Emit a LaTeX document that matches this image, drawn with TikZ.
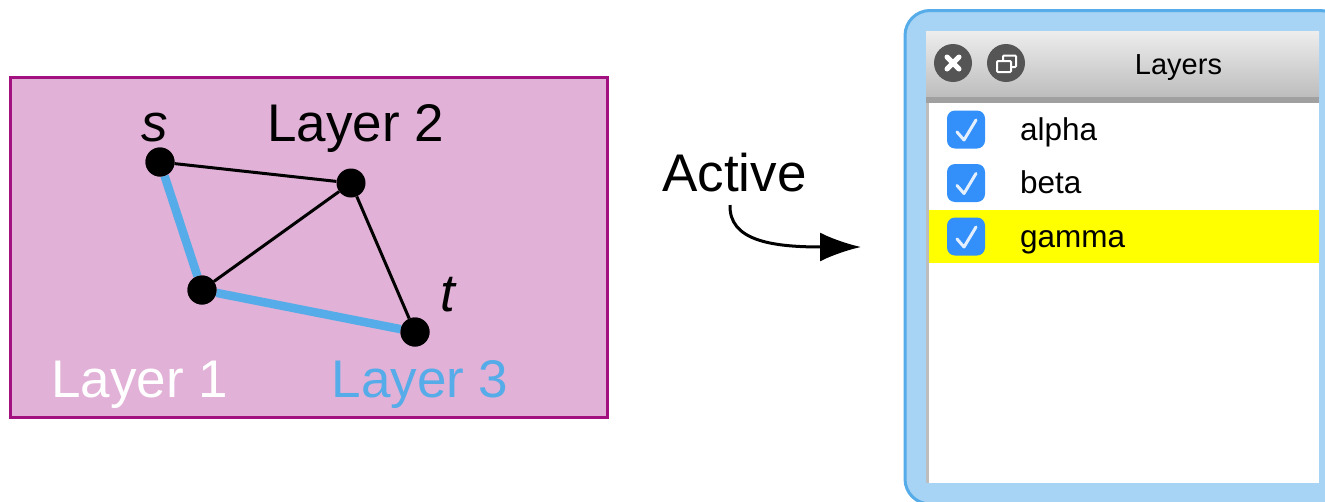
\documentclass[tikz,border=0pt]{standalone}
\usepackage{fontspec}
\setmainfont{Liberation Sans}
\usetikzlibrary{arrows.meta}
\definecolor{panelfill}{HTML}{E1B1D7}
\definecolor{paneledge}{HTML}{A3107F}
\definecolor{skyline}{HTML}{55ACE8}
\definecolor{skyfill}{HTML}{A7D3F4}
\definecolor{boxblue}{HTML}{3390FA}
\definecolor{btngray}{HTML}{555555}
\definecolor{rowyellow}{RGB}{255,255,0}
\definecolor{tickwhite}{HTML}{E4F0FF}
\definecolor{barstrip}{HTML}{A0A0A0}
\definecolor{bartop}{HTML}{EDEDED}
\definecolor{barbottom}{HTML}{BDBDBD}
\definecolor{sidestrip}{HTML}{BDBDBD}
\tikzset{
  vertex/.style={circle,fill=black,draw=none,minimum size=29pt,inner sep=0pt},
  thinedge/.style={draw=black,line width=3pt},
  thickedge/.style={draw=skyline,line width=8.5pt},
  biglabel/.style={font=\fontsize{53}{60}\selectfont,inner sep=0pt,anchor=base},
  rowlabel/.style={font=\fontsize{31.5}{36}\selectfont,inner sep=0pt,anchor=base west,text=black},
  checkbox/.style={rounded corners=8pt,fill=boxblue,draw=none,minimum width=38pt,minimum height=38pt,inner sep=0pt},
  tick/.style={draw=tickwhite,line width=3pt,line cap=round,line join=round},
  winbtn/.style={circle,fill=btngray,draw=none,minimum size=38pt,inner sep=0pt},
}
\begin{document}
\begin{tikzpicture}[x=1pt,y=-1pt]
\useasboundingbox (0,0) rectangle (1325,501);
\begin{scope}
\clip (0,0) rectangle (1325,501);
% left panel
\node[fill=panelfill,draw=paneledge,line width=2.5pt,minimum width=597pt,minimum height=340pt,inner sep=0pt] (panel) at (309,247.5) {};
\node[vertex] (s) at (160,162) {};
\node[vertex] (b) at (351,183) {};
\node[vertex] (c) at (202,290) {};
\node[vertex] (d) at (415,332) {};
\draw[thinedge] (s) -- (b);
\draw[thinedge] (b) -- (c);
\draw[thinedge] (b) -- (d);
\draw[thickedge] (s) -- (c);
\draw[thickedge] (c) -- (d);
\node[vertex] at (s) {};
\node[vertex] at (c) {};
\node[vertex] at (d) {};
\node[biglabel] (ls) at (155,141) {\itshape s};
\node[biglabel] (lt) at (448,311.5) {\itshape t};
\node[biglabel] (l2) at (355.5,141) {Layer 2};
\node[biglabel,text=white] (l1) at (139.5,397) {Layer 1};
\node[biglabel,text=skyline] (l3) at (420,397) {Layer 3};
% active
\node[biglabel] (active) at (734.5,191) {Active};
\coordinate (arrstart) at (730,205);
\coordinate (arrend) at (861,247);
\draw[line width=3pt,-{Latex[length=41pt,width=29pt]}] (arrstart) .. controls (729,240) and (770,247) .. (arrend);
% window
\draw[fill=skyfill,draw=skyline,line width=3pt,rounded corners=25pt] (905,10.5) rectangle (1345,504);
\fill[white] (926,31) rectangle (1319,483);
\fill[sidestrip] (926,100) rectangle (929,483);
\shade[top color=bartop,bottom color=barbottom] (926,31) rectangle (1319,97);
\fill[barstrip] (926,97) rectangle (1319,102.5);
\node[winbtn] (close) at (953,63) {};
\draw[white,line width=5pt,line cap=round] (947,57) -- (959,69);
\draw[white,line width=5pt,line cap=round] (959,57) -- (947,69);
\node[winbtn] (restore) at (1006,63) {};
\draw[white,line width=2pt,rounded corners=1pt] (1003,55.5) rectangle (1016,67);
\draw[white,fill=btngray,line width=2pt,rounded corners=1pt] (997,61) rectangle (1011,72);
\node[inner sep=0pt,anchor=base,font=\fontsize{29}{34}\selectfont] (title) at (1178.5,74) {Layers};
\fill[rowyellow] (929,210) rectangle (1319,263);
\node[checkbox] (cb1) at (966,129.5) {};
\node[checkbox] (cb2) at (966,183) {};
\node[checkbox] (cb3) at (966,236.5) {};
\draw[tick] (957,132) -- (964,140) -- (976,120);
\draw[tick] (957,185.5) -- (964,193.5) -- (976,173.5);
\draw[tick] (957,239) -- (964,247) -- (976,227);
\node[rowlabel] (r1) at (1020,140) {alpha};
\node[rowlabel] (r2) at (1020,193.5) {beta};
\node[rowlabel] (r3) at (1020,247) {gamma};
\end{scope}
\end{tikzpicture}
\end{document}
